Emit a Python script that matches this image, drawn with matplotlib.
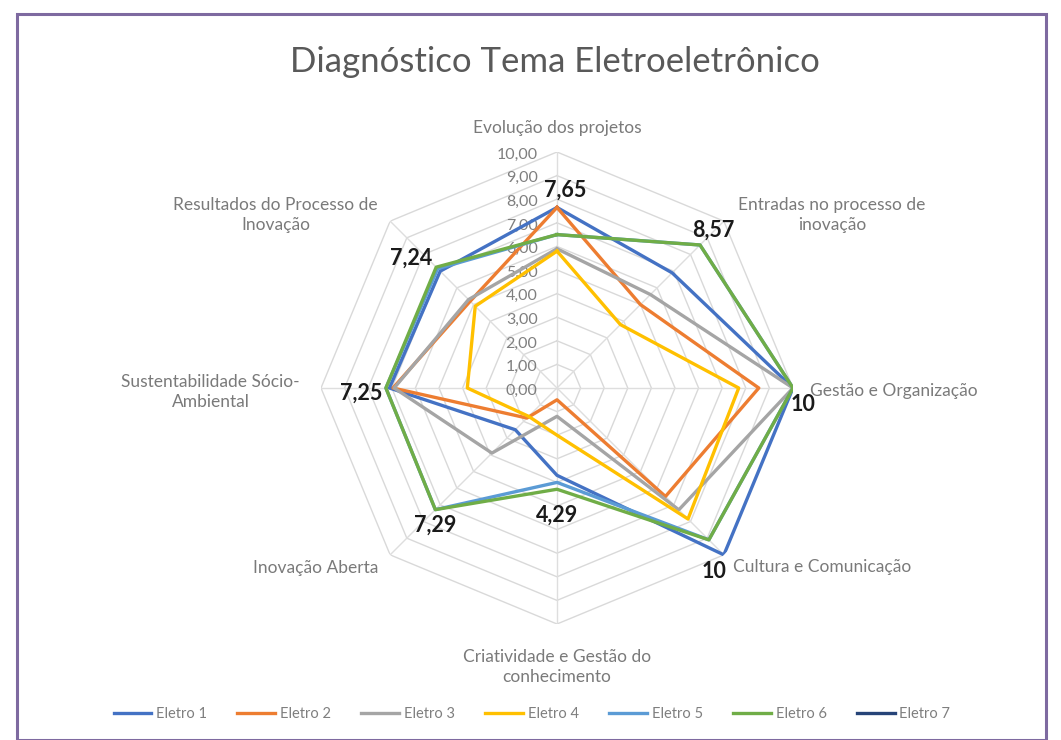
import numpy as np
import matplotlib
matplotlib.use("Agg")
import matplotlib.pyplot as plt
from matplotlib.patches import Rectangle

plt.rcParams['font.family'] = ['Lato', 'DejaVu Sans']

# categorias no sentido horário a partir do topo
categorias = ["Evolução dos projetos", "Entradas no processo de\ninovação",
              "Gestão e Organização", "Cultura e Comunicação",
              "Criatividade e Gestão do\nconhecimento", "Inovação Aberta",
              "Sustentabilidade Sócio-\nAmbiental", "Resultados do Processo de\nInovação"]

eletro1 = [7.65, 6.9, 10.0, 10.0, 3.7, 2.5, 7.1, 7.0]
eletro2 = [7.65, 5.0, 8.55, 6.5, 0.5, 1.8, 6.95, 5.2]
eletro3 = [5.9, 5.6, 10.0, 7.3, 1.2, 3.9, 6.9, 5.3]
eletro4 = [5.8, 3.8, 7.7, 7.85, 2.0, 1.7, 3.8, 4.9]
eletro5 = [6.5, 8.57, 10.0, 9.1, 4.0, 7.29, 7.25, 7.15]
eletro6 = [6.5, 8.57, 10.0, 9.1, 4.29, 7.29, 7.25, 7.24]
eletro7 = [0, 0, 0, 0, 0, 0, 0, 0]

series = ["Eletro 1", "Eletro 2", "Eletro 3", "Eletro 4", "Eletro 5", "Eletro 6", "Eletro 7"]
valores = [eletro1, eletro2, eletro3, eletro4, eletro5, eletro6, eletro7]
cores = ["#4472C4", "#ED7D31", "#A5A5A5", "#FFC000", "#5B9BD5", "#70AD47", "#264478"]

# rótulos de destaque (maiores valores)
destaques = ["7,65", "8,57", "10", "10", "4,29", "7,29", "7,25", "7,24"]
maximos = [7.65, 8.57, 10, 10, 4.29, 7.29, 7.25, 7.24]

W, H = 1061, 740
fig = plt.figure(figsize=(W / 100, H / 100), dpi=100)
cx, cy, R = 557, 388, 236
ax = fig.add_axes([(cx - R) / W, (H - cy - R) / H, 2 * R / W, 2 * R / H], projection='polar')
ax.set_theta_zero_location('N')
ax.set_theta_direction(-1)
ax.set_ylim(0, 10)
ax.grid(False)
ax.set_xticks([])
ax.set_yticks([])
ax.spines['polar'].set_visible(False)
ax.patch.set_alpha(0)

n = len(categorias)
ang = np.arange(n) * 2 * np.pi / n
ang_f = np.append(ang, ang[0])

# teia octogonal
for k in range(1, 11):
    ax.plot(ang_f, [k] * (n + 1), color="#D9D9D9", lw=1.0, zorder=1)
for a in ang:
    ax.plot([a, a], [0, 10], color="#DEDEDE", lw=1.0, zorder=1)

# escala
for k in range(0, 11):
    ax.annotate(f"{k},00", xy=(0, k), xytext=(-14, -2), textcoords='offset points',
                ha='right', va='center', fontsize=11.5, color="#7F7F7F", zorder=2)

for nome, v, c in zip(series, valores, cores):
    ax.plot(ang_f, v + v[:1], color=c, lw=2.4, label=nome, zorder=3)

# rótulos das categorias (offsets em px -> pt)
px = 0.72
cat_pos = [((0, 24), 'center'), ((108, 6), 'center'), ((17, -3), 'left'),
           ((9, -12), 'left'), ((0, -43), 'center'), ((-12, -13), 'right'),
           ((-21, -4), 'right'), ((-12, 6), 'right')]
for a, txt, (off, ha) in zip(ang, categorias, cat_pos):
    ax.annotate(txt, xy=(a, 10), xytext=(off[0] * px, off[1] * px), textcoords='offset points',
                ha=ha, va='center', multialignment='center', fontsize=12.5, color="#7A7A7A",
                linespacing=1.35, zorder=4)

lab_pos = [((8, 17), 'center'), ((13, 15), 'center'), ((10, -17), 'center'),
           ((-10, -17), 'center'), ((0, -26), 'center'), ((0, -16), 'center'),
           ((-4, -5), 'right'), ((-4, 9), 'right')]
for a, txt, m, (off, ha) in zip(ang, destaques, maximos, lab_pos):
    ax.annotate(txt, xy=(a, m), xytext=(off[0] * px, off[1] * px), textcoords='offset points',
                ha=ha, va='center', fontsize=15.5, fontweight='bold', color="#1A1A1A", zorder=5)

fig.text(555 / W, 1 - 62 / H, "Diagnóstico Tema Eletroeletrônico", ha='center', va='center',
         fontsize=25, color="#595959")

fig.legend(loc='center', bbox_to_anchor=(532 / W, 1 - 714 / H), ncol=7, frameon=False,
           fontsize=10.5, handlelength=2.6, columnspacing=2.1, handletextpad=0.3,
           labelcolor="#7F7F7F")

fig.patches.append(Rectangle((17 / W, 0.0), (1046 - 17) / W, 1 - 14 / H, transform=fig.transFigure,
                             fill=False, edgecolor="#7E6AA0", lw=2.2))

fig.savefig("out.png", dpi=100)
